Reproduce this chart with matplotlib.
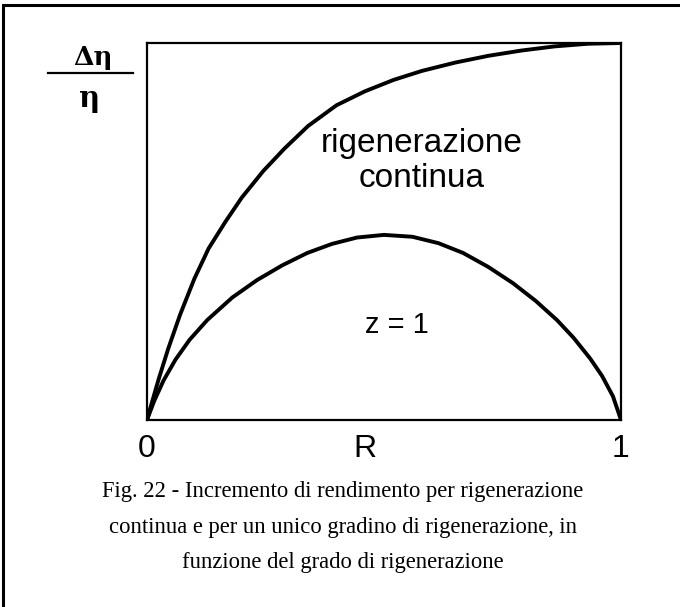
import numpy as np
import matplotlib.pyplot as plt
from matplotlib.patches import Rectangle
from matplotlib.lines import Line2D

# efficiency gain vs regeneration degree
upper_x = [0, 0.01, 0.025, 0.045, 0.07, 0.1, 0.13, 0.165, 0.2, 0.245, 0.29, 0.34,
           0.4, 0.46, 0.52, 0.58, 0.65, 0.72, 0.79, 0.86, 0.93, 1.0]
upper_y = [0, 0.045, 0.11, 0.19, 0.28, 0.375, 0.455, 0.525, 0.59, 0.66, 0.72, 0.78,
           0.835, 0.872, 0.902, 0.926, 0.948, 0.966, 0.98, 0.991, 0.998, 1.0]

lower_x = [0, 0.015, 0.035, 0.06, 0.09, 0.127, 0.18, 0.232, 0.285, 0.338, 0.39, 0.443,
           0.5, 0.56, 0.615, 0.667, 0.72, 0.772, 0.82, 0.865, 0.90, 0.935, 0.96,
           0.983, 1.0]
lower_y = [0, 0.05, 0.105, 0.16, 0.213, 0.265, 0.325, 0.371, 0.41, 0.443, 0.467, 0.484,
           0.491, 0.486, 0.469, 0.443, 0.406, 0.363, 0.316, 0.265, 0.218, 0.163, 0.117,
           0.063, 0]

tick_pos = [0, 0.46, 1]
tick_labels = ["0", "R", "1"]

caption = ("Fig. 22 - Incremento di rendimento per rigenerazione\n"
           "continua e per un unico gradino di rigenerazione, in\n"
           "funzione del grado di rigenerazione")

W, H = 680, 607
fig = plt.figure(figsize=(W / 100, H / 100), dpi=100)

# outer frame (only left and top edges fall inside the page)
fig.patches.append(Rectangle((3 / W, -0.05), 1.2, 1 - 5 / H + 0.05,
                             transform=fig.transFigure, fill=False,
                             edgecolor="black", linewidth=2.2))

ax = fig.add_axes([147 / W, 1 - 420 / H, 474 / W, 377 / H])
ax.plot(upper_x, upper_y, color="black", lw=2.8, solid_capstyle="round")
ax.plot(lower_x, lower_y, color="black", lw=2.8, solid_capstyle="round")
ax.set_xlim(0, 1)
ax.set_ylim(0, 1)
for s in ax.spines.values():
    s.set_linewidth(1.6)
ax.set_yticks([])
ax.set_xticks(tick_pos)
ax.set_xticklabels(tick_labels, family="Liberation Sans", fontsize=23)
ax.tick_params(axis="x", length=0, pad=10)

ax.text(0.58, 0.711, "rigenerazione", ha="center", va="baseline",
        family="Liberation Sans", fontsize=24)
ax.text(0.58, 0.618, "continua", ha="center", va="baseline",
        family="Liberation Sans", fontsize=24)
ax.text(0.527, 0.23, "z = 1", ha="center", va="baseline",
        family="Liberation Sans", fontsize=21)

# y label as a stacked fraction
fig.text(93 / W, 1 - 65 / H, "Δη", ha="center", va="baseline",
         family="DejaVu Serif", fontsize=19, weight="bold")
fig.lines.append(Line2D([48 / W, 133 / W], [1 - 73 / H, 1 - 73 / H],
                        transform=fig.transFigure, color="black", lw=1.6))
fig.text(90 / W, 1 - 107 / H, "η", ha="center", va="baseline",
         family="DejaVu Serif", fontsize=21, weight="bold")

fig.text(343 / W, 1 - 527 / H, caption, ha="center", va="center",
         family="Liberation Serif", fontsize=16.3, linespacing=1.9)

fig.savefig("out.png", dpi=100)
